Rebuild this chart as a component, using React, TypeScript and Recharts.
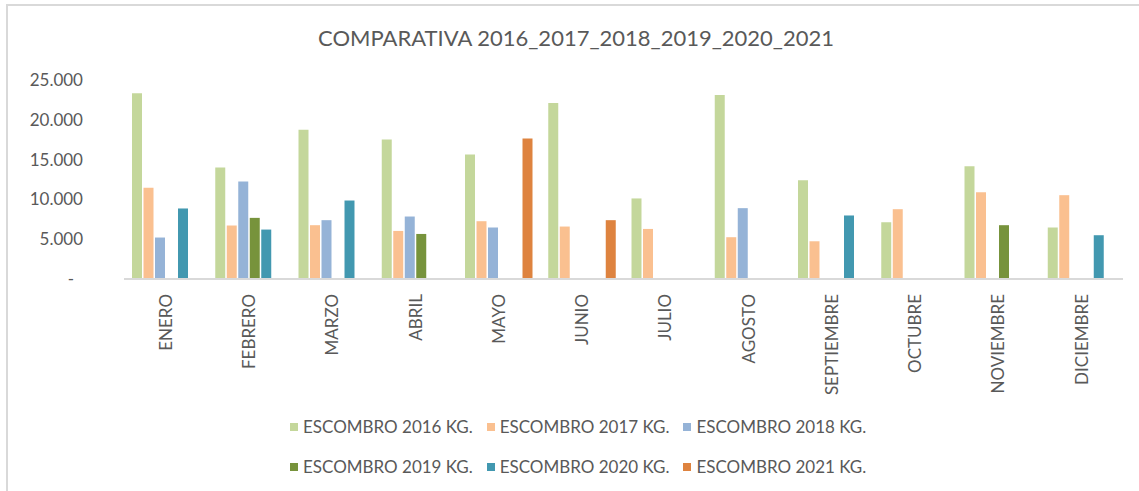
import React from 'react';
import { BarChart, Bar, XAxis, YAxis, Legend } from 'recharts';

const months = ['ENERO', 'FEBRERO', 'MARZO', 'ABRIL', 'MAYO', 'JUNIO', 'JULIO', 'AGOSTO', 'SEPTIEMBRE', 'OCTUBRE', 'NOVIEMBRE', 'DICIEMBRE'];
const esc2016 = [23330, 14020, 18750, 17540, 15650, 22110, 10120, 23110, 12420, 7130, 14180, 6470];
const esc2017 = [11450, 6720, 6760, 6040, 7260, 6590, 6290, 5250, 4740, 8770, 10910, 10530];
const esc2018 = [5210, 12250, 7390, 7850, 6470, null, null, 8900, null, null, null, null];
const esc2019 = [null, 7680, null, 5660, null, null, null, null, null, null, 6760, null];
const esc2020 = [8860, 6210, 9860, null, null, null, null, null, 7980, null, null, 5500];
const esc2021 = [null, null, null, null, 17660, 7390, null, null, null, null, null, null];

const seriesNames = ['ESCOMBRO 2016 KG.', 'ESCOMBRO 2017 KG.', 'ESCOMBRO 2018 KG.', 'ESCOMBRO 2019 KG.', 'ESCOMBRO 2020 KG.', 'ESCOMBRO 2021 KG.'];
const seriesKeys = ['s2016', 's2017', 's2018', 's2019', 's2020', 's2021'];
const seriesColors = ['#c4d79b', '#fac090', '#95b3d7', '#77933c', '#4298b0', '#de833f'];
const yTicks = [0, 5000, 10000, 15000, 20000, 25000];
const title = 'COMPARATIVA 2016_2017_2018_2019_2020_2021';

const allSeries = [esc2016, esc2017, esc2018, esc2019, esc2020, esc2021];
const data = months.map((m, i) => {
  const row: any = { month: m };
  seriesKeys.forEach((k, j) => {
    row[k] = allSeries[j][i];
  });
  return row;
});

const FONT = 'Lato, "Open Sans", sans-serif';
const TEXT = '#595959';

const fmt = (v: number) => (v === 0 ? '-' : String(v).replace(/\B(?=(\d{3})+(?!\d))/g, '.'));

const YTick = (props: any) => {
  const { x, y, payload } = props;
  const v = payload.value;
  return (
    <text x={v === 0 ? x - 9 : x} y={y} dy={6} textAnchor="end" fill={TEXT} fontSize={17} fontFamily={FONT}>
      {fmt(v)}
    </text>
  );
};

const XTick = (props: any) => {
  const { x, y, payload } = props;
  return (
    <text
      transform={`translate(${x},${y + 7}) rotate(-90)`}
      textAnchor="end"
      dy="0.36em"
      fill={TEXT}
      fontSize={17}
      fontFamily={FONT}
    >
      {payload.value}
    </text>
  );
};

const LegendContent = (props: any) => {
  const { payload } = props;
  return (
    <div
      style={{
        marginLeft: 290,
        width: 600,
        display: 'grid',
        gridTemplateColumns: 'repeat(3, 196.7px)',
        gridAutoRows: '32px',
        rowGap: 8,
        fontFamily: FONT,
        fontSize: 17,
        color: TEXT,
      }}
    >
      {(payload || []).map((p: any) => (
        <div key={p.value} style={{ display: 'flex', alignItems: 'center', lineHeight: '32px', whiteSpace: 'nowrap' }}>
          <span style={{ display: 'inline-block', width: 8, height: 8, background: p.color, marginRight: 5 }} />
          <span>{p.value}</span>
        </div>
      ))}
    </div>
  );
};

export default function App() {
  return (
    <div style={{ position: 'absolute', left: 0, top: 0, width: 1139, height: 491, overflow: 'hidden', background: '#fff' }}>
      <div
        style={{
          position: 'absolute',
          left: 6,
          top: 4,
          width: 1300,
          height: 700,
          border: '2px solid #d9d9d9',
          boxSizing: 'border-box',
        }}
      />
      <div
        style={{
          position: 'absolute',
          left: 0,
          top: 24,
          width: 1152,
          textAlign: 'center',
          fontFamily: FONT,
          fontSize: 22,
          lineHeight: '27px',
          color: TEXT,
        }}
      >
        {title}
      </div>
      <div style={{ position: 'absolute', left: 0, top: 0 }}>
        <BarChart
          width={1139}
          height={491}
          data={data}
          margin={{ top: 80, right: 16, left: 0, bottom: 0 }}
          barCategoryGap={8}
          barGap={1.5}
        >
          <XAxis
            dataKey="month"
            height={132}
            interval={0}
            tickLine={false}
            axisLine={{ stroke: '#d9d9d9', strokeWidth: 2 }}
            tick={<XTick />}
          />
          <YAxis
            width={124}
            domain={[0, 25000]}
            ticks={yTicks}
            axisLine={false}
            tickLine={false}
            tickSize={0}
            tickMargin={41}
            tick={<YTick />}
          />
          <Legend
            verticalAlign="bottom"
            height={80}
            wrapperStyle={{ left: 0, width: 1139 }}
            content={<LegendContent />}
          />
          {seriesKeys.map((k, j) => (
            <Bar key={k} dataKey={k} name={seriesNames[j]} fill={seriesColors[j]} isAnimationActive={false} />
          ))}
        </BarChart>
      </div>
    </div>
  );
}
